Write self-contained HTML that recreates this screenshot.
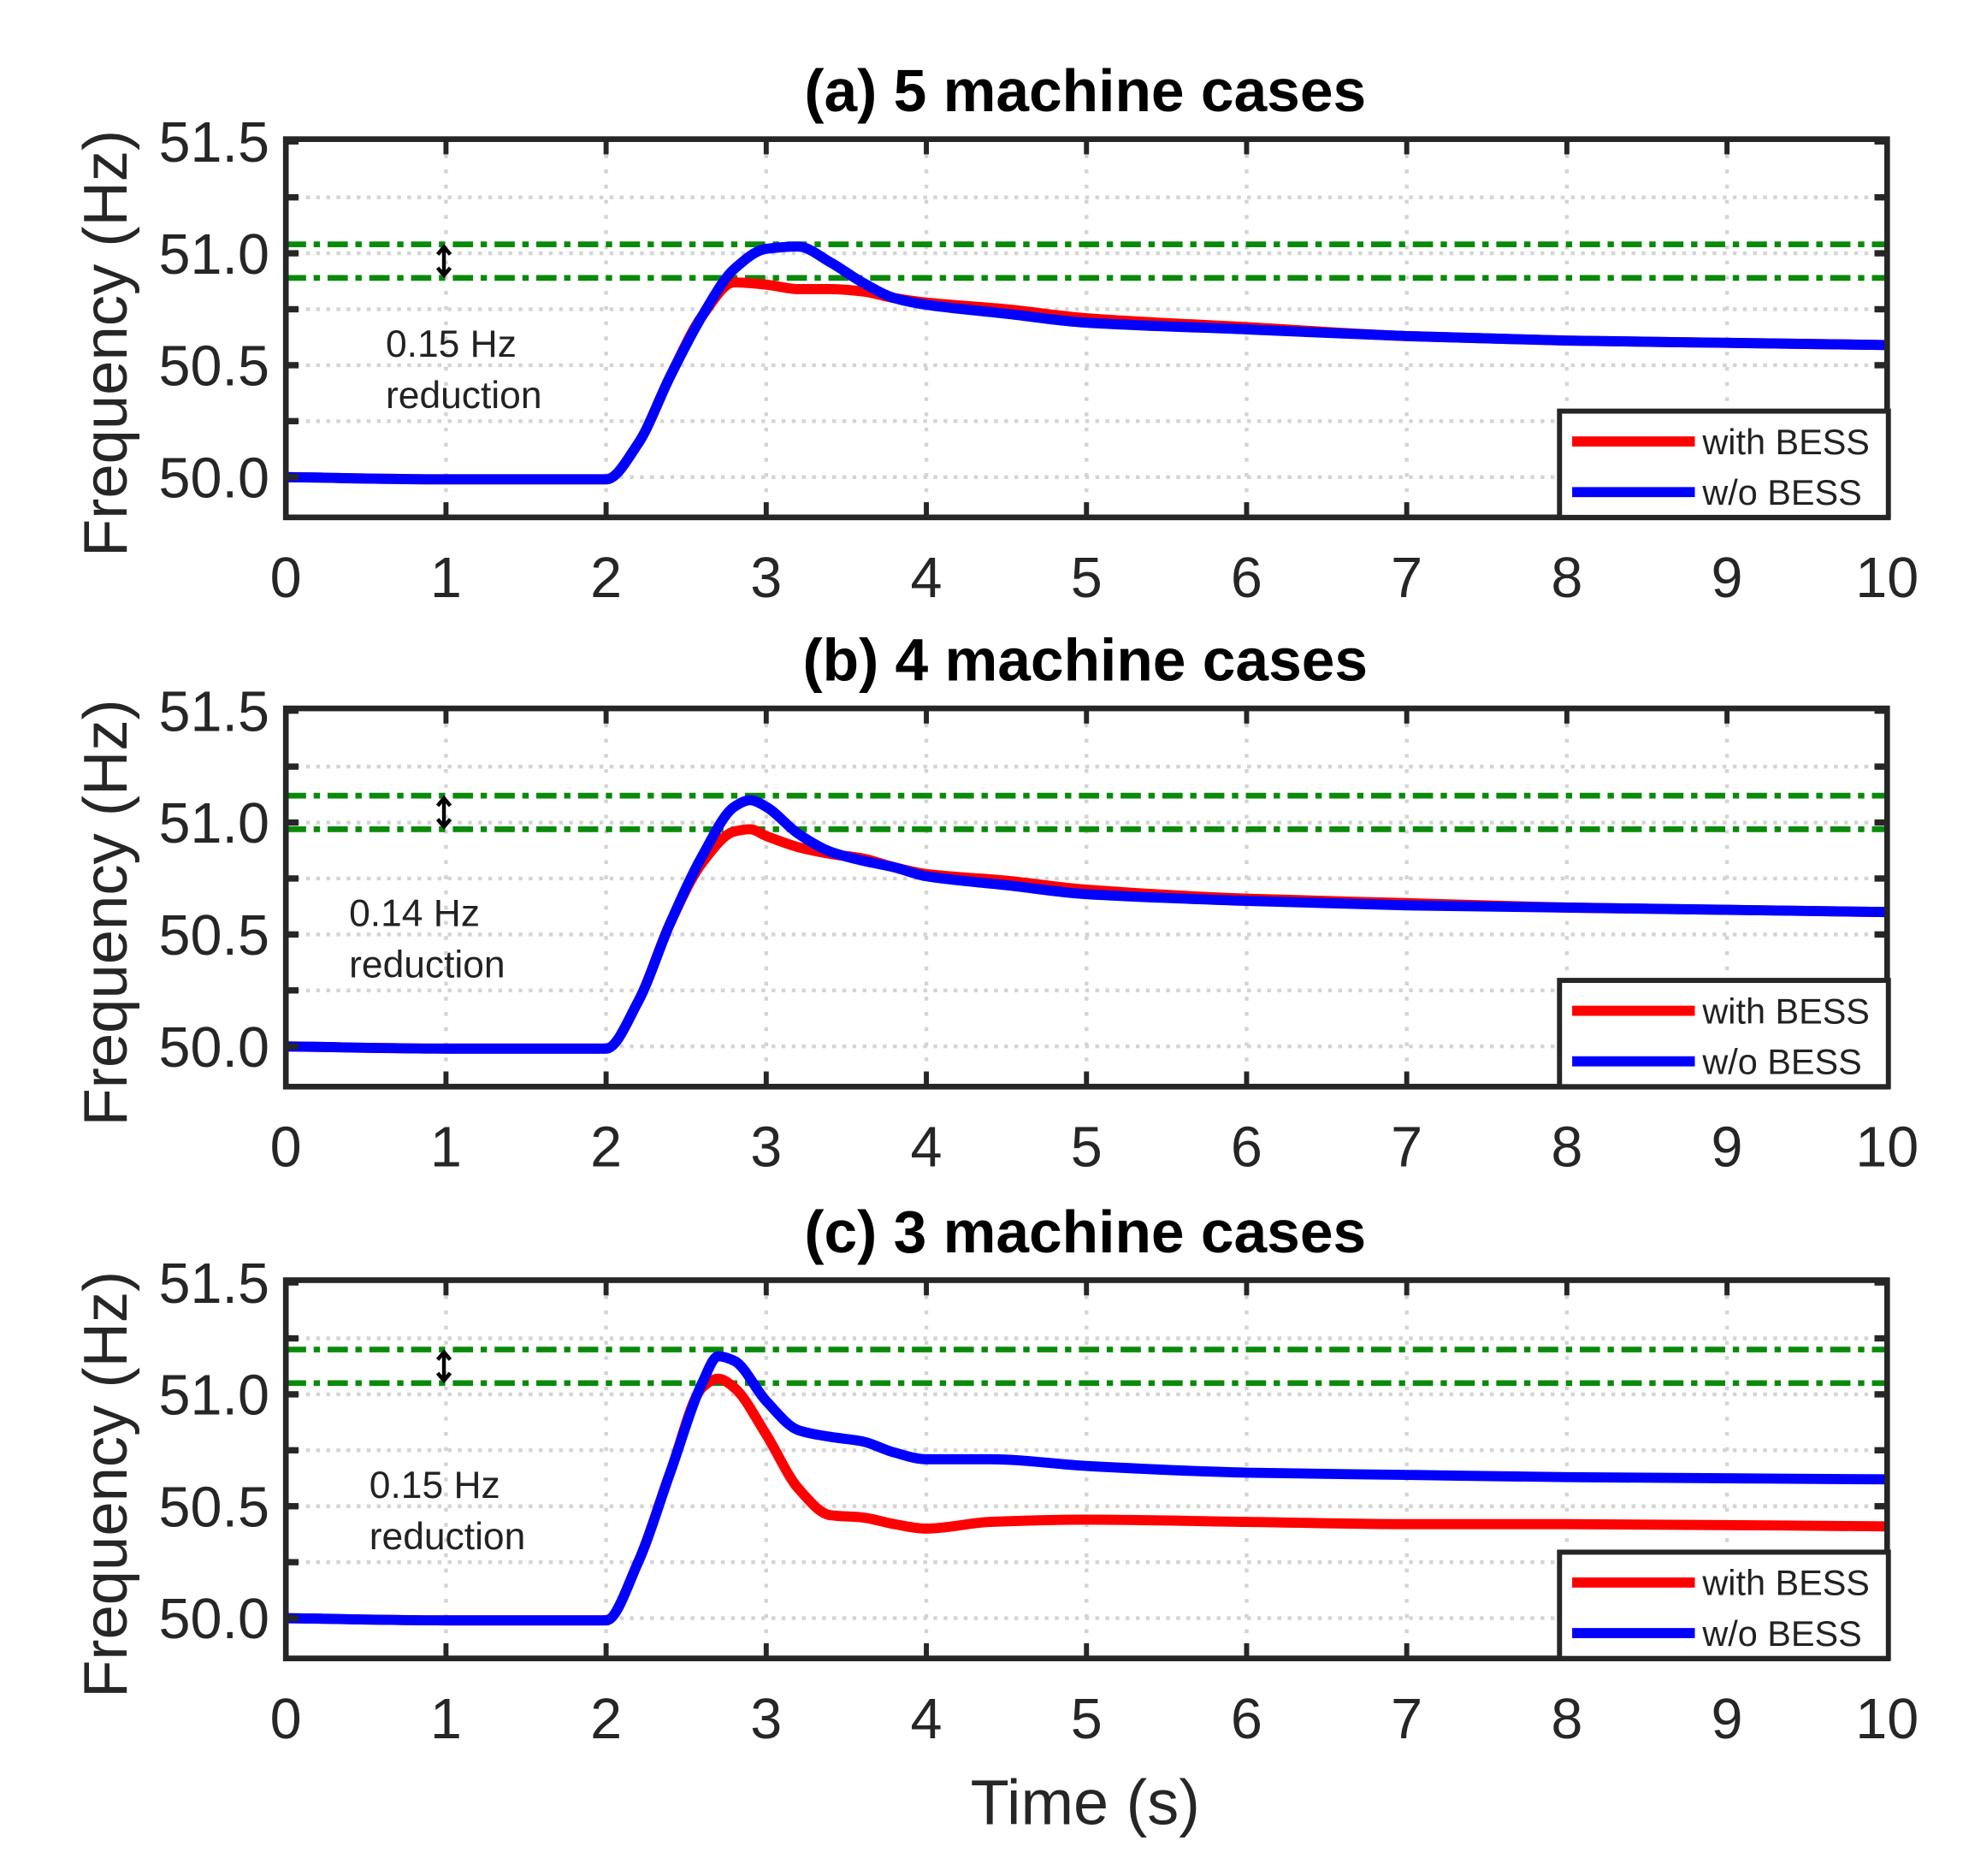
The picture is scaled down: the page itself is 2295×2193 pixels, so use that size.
<!DOCTYPE html>
<html><head><meta charset="utf-8"><style>
html,body{margin:0;padding:0;background:#fff}
svg{display:block}
text{font-family:"Liberation Sans",sans-serif}
</style></head><body>
<svg id="fig" width="2295" height="2193" viewBox="0 0 1552 1483" preserveAspectRatio="none" xmlns="http://www.w3.org/2000/svg">
<text x="858" y="1442" font-size="50" text-anchor="middle" fill="#262626">Time (s)</text>
</svg>
<script>
const timeA=[0,1,2,2.2,2.4,2.6,2.8,3.0,3.2,3.4,3.6,3.8,4,4.5,5,6,7,8,9,10];
const blueA=[50.0,49.99,49.99,50.15,50.45,50.72,50.93,51.02,51.03,50.96,50.87,50.8,50.77,50.73,50.69,50.66,50.63,50.61,50.6,50.59];
const redA =[50.0,49.99,49.99,50.15,50.45,50.72,50.87,50.86,50.84,50.84,50.83,50.8,50.78,50.75,50.71,50.67,50.63,50.61,50.6,50.59];
const timeB=[0,1,2,2.2,2.4,2.6,2.8,2.9,3.0,3.2,3.4,3.6,3.8,4,4.5,5,6,7,8,9,10];
const blueB=[50.0,49.99,49.99,50.2,50.55,50.85,51.07,51.1,51.07,50.95,50.87,50.83,50.8,50.76,50.72,50.68,50.65,50.63,50.62,50.61,50.6];
const redB =[50.0,49.99,49.99,50.2,50.55,50.82,50.96,50.97,50.94,50.89,50.86,50.84,50.8,50.77,50.74,50.7,50.66,50.64,50.62,50.61,50.6];
const timeC=[0,1,2,2.2,2.4,2.6,2.7,2.8,3.0,3.2,3.4,3.6,3.8,4.0,4.4,5,6,7,8,10];
const blueC=[50.0,49.99,49.99,50.25,50.65,51.05,51.17,51.15,50.97,50.84,50.81,50.79,50.74,50.71,50.71,50.68,50.65,50.64,50.63,50.62];
const redC =[50.0,49.99,49.99,50.25,50.65,51.03,51.07,51.03,50.82,50.58,50.46,50.45,50.42,50.4,50.43,50.44,50.43,50.42,50.42,50.41];
const xTicks=[0,1,2,3,4,5,6,7,8,9,10];
const yTickLabels=["50.0","50.5","51.0","51.5"];
const yGrid=[50,50.25,50.5,50.75,51,51.25,51.5];
const titles=["(a) 5 machine cases","(b) 4 machine cases","(c) 3 machine cases"];
const bandHigh=[51.04,51.12,51.2];
const bandLow=[50.89,50.97,51.05];
const notes=["0.15 Hz","0.14 Hz","0.15 Hz"];

const NS="http://www.w3.org/2000/svg";
const svg=document.getElementById('fig');
function el(tag,attrs,parent){const e=document.createElementNS(NS,tag);for(const k in attrs)e.setAttribute(k,attrs[k]);(parent||svg).appendChild(e);return e;}
function smooth(pts){
  const n=pts.length,d=[],m=[];
  for(let i=0;i<n-1;i++)d.push((pts[i+1][1]-pts[i][1])/(pts[i+1][0]-pts[i][0]));
  m[0]=d[0];m[n-1]=d[n-2];
  for(let i=1;i<n-1;i++){m[i]=(d[i-1]*d[i]<=0)?0:2/(1/d[i-1]+1/d[i]);}
  let s=`M${pts[0][0]},${pts[0][1]}`;
  for(let i=0;i<n-1;i++){const h=(pts[i+1][0]-pts[i][0])/3;
    s+=` C${pts[i][0]+h},${pts[i][1]+m[i]*h} ${pts[i+1][0]-h},${pts[i+1][1]-m[i+1]*h} ${pts[i+1][0]},${pts[i+1][1]}`;}
  return s;}

const panels=[{top:110,t:timeA,b:blueA,r:redA,nx:305},{top:560,t:timeB,b:blueB,r:redB,nx:276},{top:1012,t:timeC,b:blueC,r:redC,nx:292}];
const L=226,R=1492,H=299,yMin=49.82,yMax=51.51;
panels.forEach((p,i)=>{
  const top=p.top,bot=top+H;
  const sx=v=>L+(R-L)*v/10;
  const sy=v=>bot-(v-yMin)/(yMax-yMin)*H;
  const g=el('g',{});
  
  
  const tt=el('text',{x:858,y:top-22,'font-size':47,'font-weight':'bold','text-anchor':'middle',fill:'#000'},g);tt.textContent=titles[i];
  
  
  xTicks.forEach(v=>{if(v>0&&v<10){const l=el('line',{x1:sx(v),x2:sx(v),y1:top,y2:bot,stroke:'#d4d4d4','stroke-width':3,'stroke-dasharray':'3,9'},g);
    
    }});
  yGrid.forEach(v=>{if(v<51.5){const l=el('line',{x1:L,x2:R,y1:sy(v),y2:sy(v),stroke:'#d4d4d4','stroke-width':3,'stroke-dasharray':'3,5'},g);
    
    }});
  [bandHigh[i],bandLow[i]].forEach(v=>{const l=el('line',{x1:L,x2:R,y1:sy(v),y2:sy(v),stroke:'#0a8a0a','stroke-width':4.5,'stroke-dasharray':'16,6,5,6'},g);
    
    });
  const ax=351,y1=sy(bandHigh[i]),y2=sy(bandLow[i]);
  const ar=el('path',{d:`M${ax},${y1+2}L${ax},${y2-2}M${ax-5},${y1+8}L${ax},${y1+2}L${ax+5},${y1+8}M${ax-5},${y2-8}L${ax},${y2-2}L${ax+5},${y2-8}`,stroke:'#000','stroke-width':3,fill:'none'},g);
  
  
  const n1=el('text',{x:p.nx,y:sy(50.6)+11,'font-size':30,fill:'#222'},g);n1.textContent=notes[i];
  
  
  const n2=el('text',{x:p.nx,y:sy(50.37)+11,'font-size':30,fill:'#222'},g);n2.textContent='reduction';
  
  
  const bp=el('path',{d:smooth(p.t.map((t,k)=>[sx(t),sy(p.r[k])])),stroke:'#f00','stroke-width':8,fill:'none','stroke-linejoin':'round'},g);
  
  
  const bb=el('path',{d:smooth(p.t.map((t,k)=>[sx(t),sy(p.b[k])])),stroke:'#00f','stroke-width':8,fill:'none','stroke-linejoin':'round'},g);
  
  
  xTicks.forEach(v=>{
    el('line',{x1:sx(v),x2:sx(v),y1:top,y2:top+12,stroke:'#262626','stroke-width':4},g);
    el('line',{x1:sx(v),x2:sx(v),y1:bot,y2:bot-12,stroke:'#262626','stroke-width':4},g);
    const t=el('text',{x:sx(v),y:bot+63,'font-size':45,'text-anchor':'middle',fill:'#262626'},g);t.textContent=v;
    
    
  });
  yGrid.forEach(v=>{
    el('line',{x1:L,x2:L+10,y1:sy(v),y2:sy(v),stroke:'#262626','stroke-width':5},g);
    el('line',{x1:R,x2:R-10,y1:sy(v),y2:sy(v),stroke:'#262626','stroke-width':5},g);
  });
  yTickLabels.forEach(s=>{const v=parseFloat(s);const t=el('text',{x:213,y:sy(v)+16,'font-size':45,'text-anchor':'end',fill:'#262626'},g);t.textContent=s;
    
    });
  const fr=el('rect',{x:L,y:top,width:R-L,height:H,fill:'none',stroke:'#262626','stroke-width':4.5},g);
  
  
  const yl=el('text',{x:0,y:0,'font-size':49,'text-anchor':'middle',fill:'#262626',transform:`translate(100,${top+H/2+12}) rotate(-90)`},g);yl.textContent='Frequency (Hz)';
  
  
  const lg=el('g',{},g);
  
  
  const lx=1233,lw=R-lx+1,ly=bot-84;
  el('rect',{x:lx,y:ly,width:lw,height:84,fill:'#fff',stroke:'#262626','stroke-width':4},lg);
  [['with BESS','#f00',24],['w/o BESS','#00f',64]].forEach(([name,c,dy])=>{
    const e=el('g',{},lg);
    
    
    el('line',{x1:lx+10,x2:lx+107,y1:ly+dy,y2:ly+dy,stroke:c,'stroke-width':8},e);
    const t=el('text',{x:lx+113,y:ly+dy+10,'font-size':28,fill:'#222'},e);t.textContent=name;
  });
});
</script>
</body></html>
